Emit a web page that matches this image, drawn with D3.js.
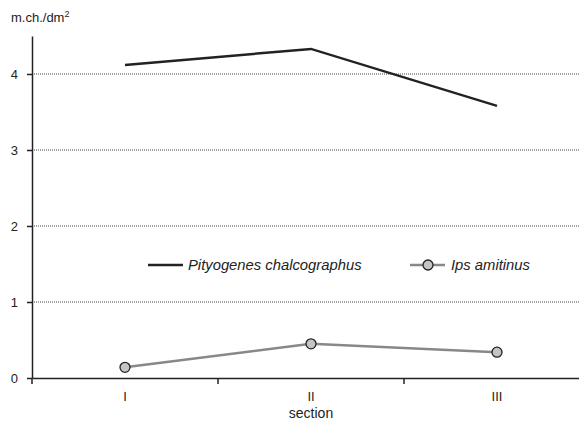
<!DOCTYPE html>
<html>
<head>
<meta charset="utf-8">
<script src="https://cdn.jsdelivr.net/npm/d3@7"></script>
<style>
  body { margin: 0; background: #fff; }
  text { font-family: "Liberation Sans", Arial, sans-serif; fill: #222; }
</style>
</head>
<body>
<div id="chartDiv"></div>
<script>
var sections = ["I", "II", "III"];
var pityogenes = [4.12, 4.33, 3.58];
var ips = [0.14, 0.45, 0.34];
var yTicks = [0, 1, 2, 3, 4];

var width = 579;
var height = 423;
var margin = { top: 36, left: 32 };
var y0 = 378;

var x = d3.scaleBand().domain(sections).range([margin.left, 590]);
var y = d3.scaleLinear().domain([0, 4.5]).range([y0, y0 - 4.5 * 76]);

var chart = d3.select("#chartDiv").append("svg")
    .attr("width", width)
    .attr("height", height);

// gridlines
chart.selectAll(".grid")
    .data(yTicks.filter(function(d) { return d > 0; }))
    .enter().append("line")
    .attr("x1", margin.left).attr("x2", width)
    .attr("y1", function(d) { return y(d); })
    .attr("y2", function(d) { return y(d); })
    .attr("stroke", "#444")
    .attr("stroke-width", 1)
    .attr("stroke-dasharray", "1,1");

// y axis
var yAxis = d3.axisLeft(y).tickValues(yTicks).tickSize(5).tickSizeOuter(0).tickFormat(d3.format("d"));
var gy = chart.append("g")
    .attr("transform", "translate(" + margin.left + ",0)")
    .call(yAxis);
gy.select(".domain").attr("stroke", "#222").attr("stroke-width", 1.5);
gy.selectAll(".tick line").attr("stroke", "#222").attr("stroke-width", 1.5);
gy.selectAll(".tick text").attr("x", -14)
    .style("font-size", "13px").style("font-family", "Liberation Sans, Arial, sans-serif").style("fill", "#222");

// x axis
var xAxis = d3.axisBottom(x).tickSize(0).tickSizeOuter(0);
var gx = chart.append("g")
    .attr("transform", "translate(0," + y0 + ")")
    .call(xAxis);
gx.select(".domain").attr("stroke", "#222").attr("stroke-width", 1.5);
gx.selectAll(".tick text").attr("y", 14)
    .style("font-size", "13px").style("font-family", "Liberation Sans, Arial, sans-serif").style("fill", "#222");

// ticks between categories
chart.selectAll(".xsep")
    .data(sections)
    .enter().append("line")
    .attr("x1", function(d) { return x(d); })
    .attr("x2", function(d) { return x(d); })
    .attr("y1", y0).attr("y2", y0 + 6)
    .attr("stroke", "#222").attr("stroke-width", 1.5);

// series lines
var line = d3.line()
    .x(function(d, i) { return x(sections[i]) + x.bandwidth() / 2; })
    .y(function(d) { return y(d); });

chart.append("path")
    .datum(pityogenes)
    .attr("d", line)
    .attr("fill", "none")
    .attr("stroke", "#222")
    .attr("stroke-width", 2.5);

chart.append("path")
    .datum(ips)
    .attr("d", line)
    .attr("fill", "none")
    .attr("stroke", "#888")
    .attr("stroke-width", 2.5);

chart.selectAll(".dot")
    .data(ips)
    .enter().append("circle")
    .attr("cx", function(d, i) { return x(sections[i]) + x.bandwidth() / 2; })
    .attr("cy", function(d) { return y(d); })
    .attr("r", 5)
    .attr("fill", "#c4c4c4")
    .attr("stroke", "#222")
    .attr("stroke-width", 1.3);

// axis titles
var yt = chart.append("text")
    .attr("x", 11).attr("y", 22)
    .style("font-size", "13px");
yt.append("tspan").text("m.ch./dm");
yt.append("tspan").attr("dy", -5).style("font-size", "9px").text("2");

chart.append("text")
    .attr("x", x("II") + x.bandwidth() / 2).attr("y", 418)
    .attr("text-anchor", "middle")
    .style("font-size", "14px")
    .text("section");

// legend
var legend = chart.append("g").attr("transform", "translate(0,265)");
legend.append("line").attr("x1", 148).attr("x2", 183).attr("y1", 0).attr("y2", 0)
    .attr("stroke", "#222").attr("stroke-width", 2.5);
legend.append("text").attr("x", 188).attr("y", 5)
    .style("font-size", "14.8px").style("font-style", "italic")
    .text("Pityogenes chalcographus");
legend.append("line").attr("x1", 410).attr("x2", 445).attr("y1", 0).attr("y2", 0)
    .attr("stroke", "#888").attr("stroke-width", 2.5);
legend.append("circle").attr("cx", 428).attr("cy", 0).attr("r", 5)
    .attr("fill", "#c4c4c4").attr("stroke", "#222").attr("stroke-width", 1.3);
legend.append("text").attr("x", 451).attr("y", 5)
    .style("font-size", "14.8px").style("font-style", "italic")
    .text("Ips amitinus");
</script>
</body>
</html>
